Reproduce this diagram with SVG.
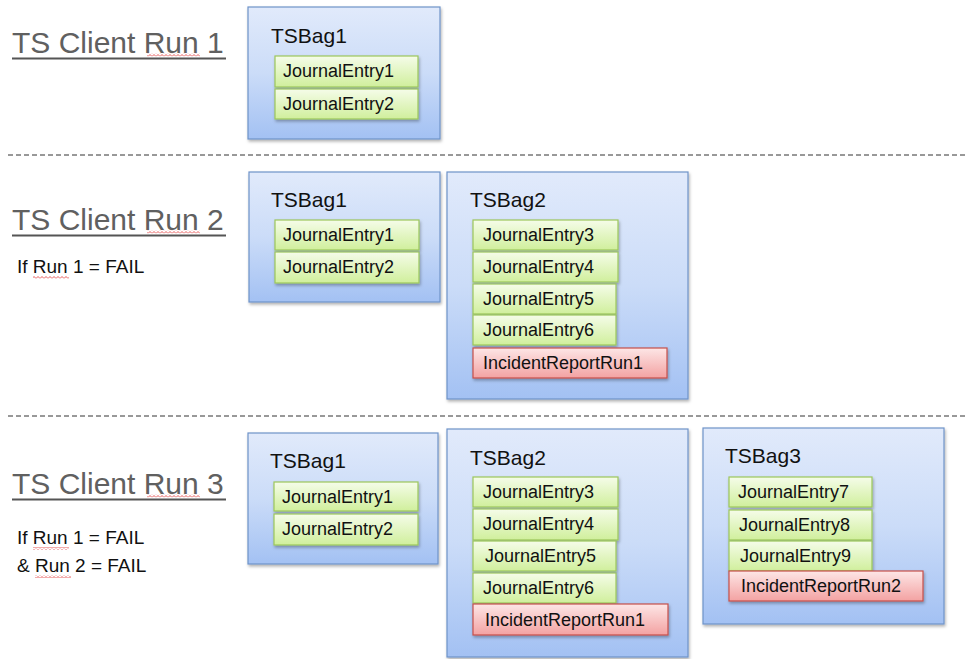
<svg xmlns="http://www.w3.org/2000/svg" width="966" height="659" viewBox="0 0 966 659">
<defs>
<linearGradient id="gBag" x1="0" y1="0" x2="0" y2="1"><stop offset="0" stop-color="#e1eafb"/><stop offset="0.5" stop-color="#cbdcf8"/><stop offset="1" stop-color="#a3c1f3"/></linearGradient>
<linearGradient id="gGreen" x1="0" y1="0" x2="0" y2="1"><stop offset="0" stop-color="#f5fce9"/><stop offset="1" stop-color="#d0ef9c"/></linearGradient>
<linearGradient id="gRed" x1="0" y1="0" x2="0" y2="1"><stop offset="0" stop-color="#fde6e6"/><stop offset="1" stop-color="#f3a2a2"/></linearGradient>
<filter id="sh" x="-10%" y="-10%" width="120%" height="130%"><feDropShadow dx="1" dy="2" stdDeviation="1.5" flood-color="#000" flood-opacity="0.3"/></filter>
<pattern id="sq" width="4" height="3" patternUnits="userSpaceOnUse"><path d="M0 2.5 L2 0.5 L4 2.5" stroke="#e03030" fill="none" stroke-width="0.8"/></pattern>
</defs>
<style>
.bag{fill:url(#gBag);stroke:#6e93c9;stroke-width:1.2;filter:url(#sh)}
.je{fill:url(#gGreen);stroke:#9cc65a;stroke-width:1.2;filter:url(#sh)}
.ir{fill:url(#gRed);stroke:#c64f4a;stroke-width:1.2;filter:url(#sh)}
.bt{font-family:"Liberation Sans",Arial,sans-serif;font-size:21px;fill:#111}
.et{font-family:"Liberation Sans",Arial,sans-serif;font-size:18px;fill:#111}
.run{font-family:"Liberation Sans",Arial,sans-serif;font-size:30px;fill:#606060}
.cond{font-family:"Liberation Sans",Arial,sans-serif;font-size:19px;fill:#111}
.ul{stroke:#555;stroke-width:2}
.dash{stroke:#333;stroke-width:1;stroke-dasharray:5 3}
</style>
<rect width="966" height="659" fill="#fff"/>

<g id="separators">
<line class="dash" x1="8" y1="155" x2="966" y2="155"/>
<line class="dash" x1="8" y1="416" x2="966" y2="416"/>
</g>

<g id="run1-label">
<text class="run" x="12" y="53">TS Client Run 1</text>
<line class="ul" x1="12" y1="58.5" x2="226" y2="58.5"/>
<rect x="147" y="53.5" width="53" height="3" fill="url(#sq)"/>
</g>
<g id="run2-label">
<text class="run" x="12" y="230">TS Client Run 2</text>
<line class="ul" x1="12" y1="235.5" x2="226" y2="235.5"/>
<rect x="147" y="230.5" width="53" height="3" fill="url(#sq)"/>
<text class="cond" x="17" y="273">If Run 1 = FAIL</text>
<rect x="33" y="276" width="36" height="3" fill="url(#sq)"/>
</g>
<g id="run3-label">
<text class="run" x="12" y="494">TS Client Run 3</text>
<line class="ul" x1="12" y1="499.5" x2="226" y2="499.5"/>
<rect x="147" y="494.5" width="53" height="3" fill="url(#sq)"/>
<text class="cond" x="17" y="544">If Run 1 = FAIL</text>
<rect x="33" y="547" width="36" height="3" fill="url(#sq)"/>
<text class="cond" x="17" y="572">&amp; Run 2 = FAIL</text>
<rect x="35" y="575" width="36" height="3" fill="url(#sq)"/>
</g>

<!-- Run 1 -->
<g id="r1-bag1">
<rect class="bag" x="248" y="7" width="192" height="132"/>
<text class="bt" x="271" y="43">TSBag1</text>
<rect class="je" x="275" y="56" width="143" height="31"/><text class="et" x="283" y="77">JournalEntry1</text>
<rect class="je" x="275" y="89" width="143" height="30"/><text class="et" x="283" y="110">JournalEntry2</text>
</g>

<!-- Run 2 -->
<g id="r2-bag1">
<rect class="bag" x="249" y="172" width="191" height="130"/>
<text class="bt" x="271" y="207">TSBag1</text>
<rect class="je" x="275" y="220" width="144" height="30"/><text class="et" x="283" y="241">JournalEntry1</text>
<rect class="je" x="275" y="252" width="144" height="31"/><text class="et" x="283" y="273">JournalEntry2</text>
</g>
<g id="r2-bag2">
<rect class="bag" x="447" y="172" width="241" height="227"/>
<text class="bt" x="470" y="207">TSBag2</text>
<rect class="je" x="473" y="220" width="145" height="30"/><text class="et" x="483" y="241">JournalEntry3</text>
<rect class="je" x="473" y="252" width="145" height="30"/><text class="et" x="483" y="273">JournalEntry4</text>
<rect class="je" x="473" y="284" width="143" height="30"/><text class="et" x="483" y="305">JournalEntry5</text>
<rect class="je" x="473" y="315" width="143" height="30"/><text class="et" x="483" y="336">JournalEntry6</text>
<rect class="ir" x="473" y="348" width="194" height="30"/><text class="et" x="483" y="369">IncidentReportRun1</text>
</g>

<!-- Run 3 -->
<g id="r3-bag1">
<rect class="bag" x="248" y="433" width="190" height="131"/>
<text class="bt" x="270" y="468">TSBag1</text>
<rect class="je" x="274" y="482" width="144" height="29"/><text class="et" x="282" y="503">JournalEntry1</text>
<rect class="je" x="274" y="514" width="144" height="31"/><text class="et" x="282" y="535">JournalEntry2</text>
</g>
<g id="r3-bag2">
<rect class="bag" x="447" y="429" width="241" height="228"/>
<text class="bt" x="470" y="465">TSBag2</text>
<rect class="je" x="473" y="477" width="145" height="30"/><text class="et" x="483" y="498">JournalEntry3</text>
<rect class="je" x="473" y="509" width="145" height="31"/><text class="et" x="483" y="530">JournalEntry4</text>
<rect class="je" x="473" y="541" width="143" height="30"/><text class="et" x="485" y="562">JournalEntry5</text>
<rect class="je" x="473" y="573" width="143" height="30"/><text class="et" x="483" y="594">JournalEntry6</text>
<rect class="ir" x="473" y="604" width="195" height="31"/><text class="et" x="485" y="626">IncidentReportRun1</text>
</g>
<g id="r3-bag3">
<rect class="bag" x="703" y="428" width="241" height="196"/>
<text class="bt" x="725" y="463">TSBag3</text>
<rect class="je" x="729" y="477" width="143" height="30"/><text class="et" x="738" y="498">JournalEntry7</text>
<rect class="je" x="729" y="510" width="143" height="30"/><text class="et" x="739" y="531">JournalEntry8</text>
<rect class="je" x="729" y="541" width="143" height="30"/><text class="et" x="740" y="562">JournalEntry9</text>
<rect class="ir" x="729" y="571" width="194" height="30"/><text class="et" x="741" y="592">IncidentReportRun2</text>
</g>
</svg>
